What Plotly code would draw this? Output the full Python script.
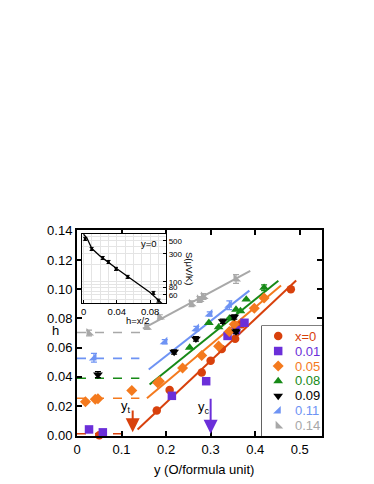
import plotly.graph_objects as go

# main data: y (O/formula unit) vs h, one series per x
series_names = ["x=0", "0.01", "0.05", "0.08", "0.09", "0.11", "0.14"]
colors = ["#d8410c", "#6b2fd9", "#f47a1e", "#178a17", "#000000", "#6e93f4", "#a8a8a8"]
symbols = ["circle", "square", "diamond", "triangle-up", "triangle-down", "triangle-se", "triangle-sw"]

y_x0 = [0.05, 0.179, 0.208, 0.28, 0.30, 0.325, 0.355, 0.37, 0.48]
h_x0 = [0.0, 0.017, 0.031, 0.043, 0.051, 0.059, 0.066, 0.076, 0.100]
y_x01 = [0.027, 0.058, 0.213, 0.29, 0.338, 0.357, 0.376]
h_x01 = [0.004, 0.002, 0.027, 0.037, 0.068, 0.072, 0.077]
y_x05 = [0.019, 0.041, 0.047, 0.123, 0.181, 0.185, 0.237, 0.28, 0.318, 0.342, 0.353, 0.398, 0.42]
h_x05 = [0.023, 0.0246, 0.025, 0.0307, 0.036, 0.037, 0.046, 0.0546, 0.061, 0.071, 0.076, 0.087, 0.094]
y_x08 = [0.253, 0.296, 0.318, 0.342, 0.357, 0.367, 0.38, 0.42]
h_x08 = [0.060, 0.077, 0.074, 0.080, 0.086, 0.085, 0.093, 0.101]
y_x09 = [0.047, 0.218, 0.267, 0.327, 0.353, 0.357]
h_x09 = [0.0415, 0.057, 0.066, 0.078, 0.081, 0.071]
y_x11 = [0.038, 0.197, 0.268, 0.298, 0.342]
h_x11 = [0.053, 0.064, 0.073, 0.083, 0.089]
y_x14 = [0.027, 0.157, 0.186, 0.257, 0.275, 0.284, 0.357]
h_x14 = [0.070, 0.074, 0.081, 0.090, 0.093, 0.095, 0.107]

err_x08 = [0.0, 0.0, 0.0, 0.0, 0.0, 0.0, 0.0, 0.002]
err_x09 = [0.002, 0.0015, 0.0015, 0.0015, 0.0015, 0.0015]
err_x11 = [0.003, 0.0015, 0.0015, 0.0015, 0.003]
err_x14 = [0.002, 0.0015, 0.0015, 0.002, 0.002, 0.002, 0.003]

ys = [y_x0, y_x01, y_x05, y_x08, y_x09, y_x11, y_x14]
hs = [h_x0, h_x01, h_x05, h_x08, h_x09, h_x11, h_x14]
errs = [None, None, None, err_x08, err_x09, err_x11, err_x14]

# linear fits (solid) and low-y plateaus (dashed)
fit_colors = ["#d8410c", "#f47a1e", "#178a17", "#6e93f4", "#a8a8a8"]
fit_y = [[0.136, 0.492], [0.157, 0.458], [0.163, 0.452], [0.161, 0.387], [0.148, 0.389]]
fit_h = [[0.004, 0.106], [0.0253, 0.1025], [0.0348, 0.1058], [0.045, 0.099], [0.073, 0.1126]]
plateau_y = [[0.0, 0.117], [0.0, 0.14], [0.0, 0.14], [0.0, 0.14], [0.0, 0.15]]
plateau_h = [0.001, 0.0253, 0.039, 0.0526, 0.0703]

# inset: S vs h at y=0
inset_h = [0.002, 0.0097, 0.023, 0.030, 0.039, 0.053, 0.084, 0.090]
inset_s = [541, 365, 256, 219, 167, 122, 65, 48]
inset_fit_h = [0.0, 0.004, 0.010, 0.020, 0.040, 0.060, 0.080, 0.095]
inset_fit_s = [650, 560, 370, 275, 168, 104, 66, 42]

yt, yc = 0.125, 0.30

fig = go.Figure()

for fy, fh, c in zip(fit_y, fit_h, fit_colors):
    fig.add_trace(go.Scatter(x=fy, y=fh, mode="lines", line=dict(color=c, width=2),
                             showlegend=False, hoverinfo="skip"))
for py, ph, c in zip(plateau_y, plateau_h, fit_colors):
    fig.add_trace(go.Scatter(x=py, y=[ph, ph], mode="lines",
                             line=dict(color=c, width=1.6, dash="dash"),
                             showlegend=False, hoverinfo="skip"))

for name, c, s, xv, yv, e in zip(series_names, colors, symbols, ys, hs, errs):
    fig.add_trace(go.Scatter(
        x=xv, y=yv, mode="markers", name=name, showlegend=False,
        marker=dict(color=c, symbol=s, size=8.5, line=dict(width=0)),
        error_y=dict(type="data", array=e, visible=e is not None,
                     color=c, thickness=1.2, width=3),
        cliponaxis=False,
    ))

# legend drawn on its own small axis: one row per series
rows = list(range(len(series_names)))
fig.add_trace(go.Scatter(
    x=[0.27] * len(rows), y=rows, mode="markers", xaxis="x3", yaxis="y3",
    marker=dict(color=colors, symbol=symbols, size=8.5, line=dict(width=0)),
    showlegend=False, hoverinfo="skip", cliponaxis=False,
))

fig.add_trace(go.Scatter(x=inset_fit_h, y=inset_fit_s, mode="lines",
                         line=dict(color="black", width=1.3), xaxis="x2", yaxis="y2",
                         showlegend=False, hoverinfo="skip"))
fig.add_trace(go.Scatter(x=inset_h, y=inset_s, mode="markers",
                         marker=dict(color="black", size=3),
                         error_y=dict(type="percent", value=6, color="black", thickness=1, width=2),
                         xaxis="x2", yaxis="y2", showlegend=False))

font = "Liberation Sans, Arial, sans-serif"
axis_common = dict(showline=True, linecolor="black", linewidth=2, mirror="ticks",
                   ticks="inside", ticklen=5, tickwidth=1.5, tickcolor="black",
                   showgrid=False, zeroline=False)

fig.update_layout(
    width=374, height=484,
    margin=dict(l=69, r=60, t=222, b=56),
    paper_bgcolor="white", plot_bgcolor="white",
    font=dict(family=font, size=13, color="black"),
    showlegend=False,
    xaxis=dict(range=[0, 0.55], tickvals=[0, 0.1, 0.2, 0.3, 0.4, 0.5],
               ticktext=["0", "0.1", "0.2", "0.3", "0.4", "0.5"], **axis_common),
    yaxis=dict(range=[-0.0005, 0.1405], tickvals=[0, 0.02, 0.04, 0.06, 0.08, 0.10, 0.12, 0.14],
               tickformat=".2f", **axis_common),
    xaxis2=dict(domain=[0.02, 0.363], anchor="y2", range=[-0.002, 0.099],
                tickvals=[0, 0.04, 0.08], ticktext=["0", "0.04", "0.08"],
                showline=True, linecolor="black", linewidth=1.3, mirror=True,
                ticks="inside", ticklen=3, tickcolor="black",
                showgrid=True, gridcolor="#e4e4e4", gridwidth=0.8,
                minor=dict(dtick=0.01, showgrid=True, gridcolor="#e4e4e4"),
                zeroline=False, tickfont=dict(size=9.5)),
    yaxis2=dict(domain=[0.646, 0.981], anchor="x2", type="log", side="right",
                range=[1.642, 2.818], tickvals=[60, 80, 100, 300, 500],
                showline=True, linecolor="black", linewidth=1.3, mirror=True,
                ticks="inside", ticklen=3, tickcolor="black",
                showgrid=True, gridcolor="#e4e4e4", gridwidth=0.8,
                minor=dict(tickvals=[50, 70, 90, 200, 400, 600], showgrid=True, gridcolor="#e4e4e4"),
                zeroline=False, tickfont=dict(size=8), ticklabelstandoff=0),
    xaxis3=dict(domain=[0.755, 1.0], anchor="y3", range=[0, 1], visible=False, fixedrange=True),
    yaxis3=dict(domain=[0.0, 0.534], anchor="x3", range=[6.67, -0.67], visible=False, fixedrange=True),
    shapes=[dict(type="rect", xref="paper", yref="paper", x0=0.755, x1=1.0, y0=0.0, y1=0.534,
                 line=dict(color="black", width=1.2), fillcolor="white", layer="below")],
)

annotations = [
    dict(text="h", x=-0.11, y=0.512, xref="paper", yref="paper", showarrow=False,
         font=dict(size=13)),
    dict(text="y (O/formula unit)", x=0.52, y=-0.165, xref="paper", yref="paper",
         yanchor="middle", showarrow=False, font=dict(size=13)),
    dict(text="y<sub>t</sub>", x=yt - 0.016, y=0.020, xref="x", yref="y", showarrow=False,
         font=dict(size=13)),
    dict(text="y<sub>c</sub>", x=yc - 0.016, y=0.019, xref="x", yref="y", showarrow=False,
         font=dict(size=13)),
    dict(x=yt, y=0.002, ax=yt, ay=0.018, xref="x", yref="y", axref="x", ayref="y",
         showarrow=True, arrowhead=2, arrowsize=1.4, arrowwidth=2, arrowcolor=colors[0], text=""),
    dict(x=yc, y=0.001, ax=yc, ay=0.026, xref="x", yref="y", axref="x", ayref="y",
         showarrow=True, arrowhead=2, arrowsize=1.4, arrowwidth=2, arrowcolor=colors[1], text=""),
    dict(text="y=0", x=0.079, y=2.65, xref="x2", yref="y2", showarrow=False,
         font=dict(size=9.5)),
    dict(text="S(μV/K)", x=0.462, y=0.905, xref="paper", yref="paper", showarrow=False,
         textangle=90, font=dict(size=9.5)),
    dict(text="h=x/2", x=0.19, y=0.562, xref="paper", yref="paper", showarrow=False,
         font=dict(size=9.5)),
]
for i, (name, c) in enumerate(zip(series_names, colors)):
    annotations.append(dict(text=name, x=0.52, y=i, xref="x3", yref="y3", xanchor="left",
                            showarrow=False, font=dict(size=13, color=c)))
fig.update_layout(annotations=annotations)

fig.write_html("out.html")
